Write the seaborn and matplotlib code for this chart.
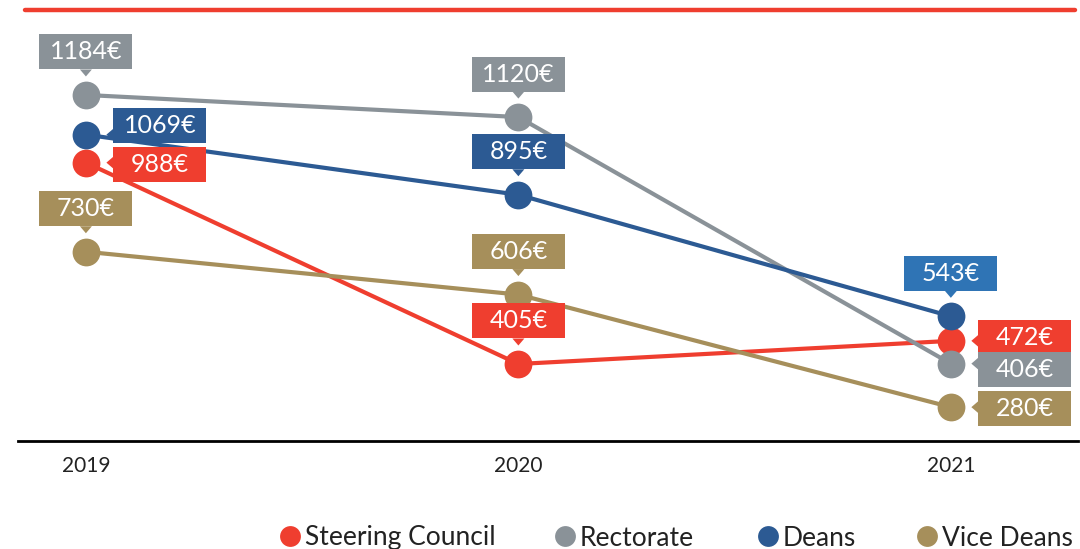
"""Average cost per group, 2019-2021 — line chart with boxed value labels."""
import numpy as np
import pandas as pd
import matplotlib
matplotlib.use("Agg")
import matplotlib.pyplot as plt
import matplotlib.transforms as mtransforms
from matplotlib.patches import Rectangle, Polygon
from matplotlib.lines import Line2D
import seaborn as sns

# ---- data ----
years = [2019, 2020, 2021]
groups = ["Steering Council", "Rectorate", "Deans", "Vice Deans"]
steering = [988, 405, 472]
rectorate = [1184, 1120, 406]
deans = [1069, 895, 543]
vice_deans = [730, 606, 280]

# ---- styles ----
colors = {
    "Steering Council": "#EF3E2F",
    "Rectorate": "#8A9298",
    "Deans": "#2C5A93",
    "Vice Deans": "#A68F5B",
}
# label placement per group / year: ("up", 0) or ("right", dy in px)
placement = {
    "Steering Council": [("right", -2), ("up", 0), ("right", 3)],
    "Rectorate": [("up", 0), ("up", 0), ("right", -6)],
    "Deans": [("right", 9), ("up", 0), ("up", 0)],
    "Vice Deans": [("up", 0), ("up", 0), ("right", -1)],
}
box_override = {("Deans", 2021): "#2F74B5"}
legend_x = [277, 552, 755, 914]  # left edge of each legend entry, px

df = pd.DataFrame({
    "year": years * 4,
    "group": np.repeat(groups, 3),
    "cost": steering + rectorate + deans + vice_deans,
})

sns.set_style("white")
plt.rcParams["font.family"] = ["Lato", "DejaVu Sans"]

fig = plt.figure(figsize=(10.8, 5.49), dpi=100)
ax = fig.add_axes([18 / 1080, 1 - 441 / 549, 1060 / 1080, 431 / 549])

sns.lineplot(data=df, x="year", y="cost", hue="group", hue_order=groups,
             palette=colors, linewidth=3, marker="o", markersize=20,
             markeredgewidth=0, legend=False, ax=ax, zorder=2)

ax.set_xlim(2018.843, 2021.294)
ax.set_ylim(182, 1430)
ax.set_xticks(years)
ax.set_xticklabels([str(y) for y in years], fontsize=15, color="#222222")
ax.tick_params(axis="x", length=0, pad=11)
ax.set_yticks([])
ax.set_xlabel("")
ax.set_ylabel("")
for s in ["left", "right", "top"]:
    ax.spines[s].set_visible(False)
ax.spines["bottom"].set_color("black")
ax.spines["bottom"].set_linewidth(2)

# red rule on top
fig.add_artist(Line2D([25 / 1080, 1075 / 1080], [1 - 10 / 549, 1 - 10 / 549],
                      color="#EF3E2F", linewidth=3.2, transform=fig.transFigure))

# ---- boxed value labels (pixel offsets from each point) ----
W, H = 93, 35
values = {"Steering Council": steering, "Rectorate": rectorate,
          "Deans": deans, "Vice Deans": vice_deans}
for g in groups:
    for i, yr in enumerate(years):
        v = values[g][i]
        px, py = ax.transData.transform((yr, v))
        tr = mtransforms.Affine2D().translate(px, py)
        col = box_override.get((g, yr), colors[g])
        kind, dy = placement[g][i]
        if kind == "up":
            cx, cy = 0, 43
            tri = [(-6, cy - H / 2), (6, cy - H / 2), (0, cy - H / 2 - 7)]
        else:
            cx, cy = 74, dy
            left = cx - W / 2
            tri = [(left, 6), (left, -6), (left - 7, 0)]
        ax.add_patch(Rectangle((cx - W / 2, cy - H / 2), W, H, transform=tr,
                               facecolor=col, edgecolor="none", clip_on=False, zorder=5))
        ax.add_patch(Polygon(tri, closed=True, transform=tr, facecolor=col,
                             edgecolor="none", clip_on=False, zorder=5))
        ax.text(cx, cy, f"{v}€", transform=tr, ha="center", va="center",
                color="white", fontsize=18, clip_on=False, zorder=6)

# ---- legend: one entry per group at its own x ----
for g, lx in zip(groups, legend_x):
    h = Line2D([], [], marker="o", linestyle="", markersize=15,
               markeredgewidth=0, color=colors[g])
    fig.legend([h], [g], loc="center left",
               bbox_to_anchor=(lx / 1080, 1 - 538 / 549), frameon=False,
               fontsize=19, handletextpad=0.05, handlelength=1.0,
               borderaxespad=0, borderpad=0, labelcolor="#222222")

fig.savefig("out.png", dpi=100)
